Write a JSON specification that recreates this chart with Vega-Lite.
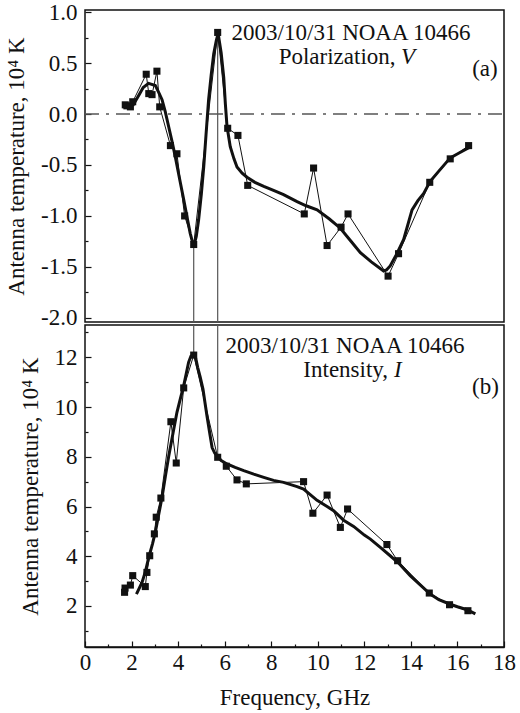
{
  "$schema": "https://vega.github.io/schema/vega-lite/v6.json",
  "background": "white",
  "padding": {"left": 4, "top": 0, "right": 4, "bottom": 4},
  "bounds": "flush",
  "spacing": 3,
  "datasets": {
    "vPts": [
      {"f": 1.73, "t": 0.09}, {"f": 1.80, "t": 0.08}, {"f": 1.95, "t": 0.07}, {"f": 2.05, "t": 0.12},
      {"f": 2.63, "t": 0.39}, {"f": 2.74, "t": 0.20}, {"f": 2.88, "t": 0.19}, {"f": 3.09, "t": 0.42},
      {"f": 3.21, "t": 0.07}, {"f": 3.67, "t": -0.31}, {"f": 3.95, "t": -0.39}, {"f": 4.28, "t": -1.00},
      {"f": 4.67, "t": -1.28}, {"f": 5.70, "t": 0.80}, {"f": 6.13, "t": -0.14}, {"f": 6.57, "t": -0.21},
      {"f": 6.99, "t": -0.70}, {"f": 9.42, "t": -0.98}, {"f": 9.82, "t": -0.53}, {"f": 10.40, "t": -1.29},
      {"f": 11.00, "t": -1.11}, {"f": 11.30, "t": -0.98}, {"f": 13.02, "t": -1.59}, {"f": 13.47, "t": -1.37},
      {"f": 14.81, "t": -0.67}, {"f": 15.69, "t": -0.44}, {"f": 16.48, "t": -0.31}
    ],
    "vFit": [
      {"f": 2.05, "t": 0.08}, {"f": 2.3, "t": 0.18}, {"f": 2.5, "t": 0.26}, {"f": 2.73, "t": 0.30},
      {"f": 3.02, "t": 0.28}, {"f": 3.15, "t": 0.22}, {"f": 3.31, "t": 0.14}, {"f": 3.45, "t": 0.02},
      {"f": 3.59, "t": -0.12}, {"f": 3.75, "t": -0.28}, {"f": 3.88, "t": -0.42}, {"f": 4.05, "t": -0.62},
      {"f": 4.24, "t": -0.84}, {"f": 4.4, "t": -1.03}, {"f": 4.52, "t": -1.17}, {"f": 4.67, "t": -1.30},
      {"f": 4.78, "t": -1.2}, {"f": 4.88, "t": -1.04}, {"f": 5.0, "t": -0.78}, {"f": 5.10, "t": -0.52},
      {"f": 5.2, "t": -0.2}, {"f": 5.31, "t": 0.14}, {"f": 5.42, "t": 0.38}, {"f": 5.53, "t": 0.59},
      {"f": 5.64, "t": 0.72}, {"f": 5.72, "t": 0.79}, {"f": 5.85, "t": 0.6}, {"f": 5.96, "t": 0.36},
      {"f": 6.03, "t": 0.1}, {"f": 6.10, "t": -0.12}, {"f": 6.24, "t": -0.32}, {"f": 6.4, "t": -0.44},
      {"f": 6.53, "t": -0.52}, {"f": 6.75, "t": -0.58}, {"f": 6.96, "t": -0.62}, {"f": 7.3, "t": -0.67},
      {"f": 7.68, "t": -0.71}, {"f": 8.1, "t": -0.75}, {"f": 8.53, "t": -0.79}, {"f": 9.11, "t": -0.86},
      {"f": 9.5, "t": -0.90}, {"f": 9.97, "t": -0.94}, {"f": 10.5, "t": -1.03}, {"f": 10.97, "t": -1.12},
      {"f": 11.4, "t": -1.24}, {"f": 11.83, "t": -1.36}, {"f": 12.3, "t": -1.45}, {"f": 12.83, "t": -1.54},
      {"f": 12.95, "t": -1.53}, {"f": 13.11, "t": -1.49}, {"f": 13.4, "t": -1.37}, {"f": 13.69, "t": -1.23},
      {"f": 14.05, "t": -0.94}, {"f": 14.3, "t": -0.85}, {"f": 14.55, "t": -0.78}, {"f": 14.83, "t": -0.66},
      {"f": 15.2, "t": -0.56}, {"f": 15.69, "t": -0.43}, {"f": 16.05, "t": -0.385}, {"f": 16.41, "t": -0.34},
      {"f": 16.5, "t": -0.33}
    ],
    "iPts": [
      {"f": 1.70, "t": 2.55}, {"f": 1.72, "t": 2.72}, {"f": 1.95, "t": 2.84}, {"f": 2.05, "t": 3.22},
      {"f": 2.59, "t": 2.78}, {"f": 2.66, "t": 3.35}, {"f": 2.78, "t": 4.02}, {"f": 2.98, "t": 4.90},
      {"f": 3.06, "t": 5.57}, {"f": 3.26, "t": 6.34}, {"f": 3.69, "t": 9.41}, {"f": 3.92, "t": 7.75},
      {"f": 4.24, "t": 10.77}, {"f": 4.67, "t": 12.09}, {"f": 5.70, "t": 7.98}, {"f": 6.07, "t": 7.62},
      {"f": 6.53, "t": 7.07}, {"f": 6.93, "t": 6.91}, {"f": 9.39, "t": 7.00}, {"f": 9.79, "t": 5.73},
      {"f": 10.40, "t": 6.46}, {"f": 10.97, "t": 5.16}, {"f": 11.28, "t": 5.90}, {"f": 12.97, "t": 4.47},
      {"f": 13.43, "t": 3.82}, {"f": 14.79, "t": 2.52}, {"f": 15.66, "t": 2.05}, {"f": 16.45, "t": 1.81}
    ],
    "iFit": [
      {"f": 2.21, "t": 2.48}, {"f": 2.45, "t": 2.95}, {"f": 2.6, "t": 3.4}, {"f": 2.74, "t": 3.96},
      {"f": 2.9, "t": 4.5}, {"f": 3.02, "t": 4.96}, {"f": 3.15, "t": 5.6}, {"f": 3.31, "t": 6.37},
      {"f": 3.45, "t": 7.2}, {"f": 3.60, "t": 8.04}, {"f": 3.78, "t": 8.95}, {"f": 3.95, "t": 9.79},
      {"f": 4.1, "t": 10.35}, {"f": 4.24, "t": 10.86}, {"f": 4.35, "t": 11.35}, {"f": 4.45, "t": 11.80},
      {"f": 4.55, "t": 12.05}, {"f": 4.67, "t": 12.13}, {"f": 4.76, "t": 11.95}, {"f": 4.84, "t": 11.60},
      {"f": 4.95, "t": 11.2}, {"f": 5.07, "t": 10.71}, {"f": 5.15, "t": 10.2}, {"f": 5.24, "t": 9.64},
      {"f": 5.35, "t": 9.0}, {"f": 5.46, "t": 8.37}, {"f": 5.57, "t": 8.15}, {"f": 5.67, "t": 8.04},
      {"f": 5.85, "t": 7.85}, {"f": 6.10, "t": 7.71}, {"f": 6.45, "t": 7.57}, {"f": 6.82, "t": 7.44},
      {"f": 7.25, "t": 7.30}, {"f": 7.68, "t": 7.17}, {"f": 8.1, "t": 7.05}, {"f": 8.53, "t": 6.97},
      {"f": 9.11, "t": 6.80}, {"f": 9.39, "t": 6.70}, {"f": 9.97, "t": 6.25}, {"f": 10.4, "t": 6.0},
      {"f": 10.68, "t": 5.83}, {"f": 11.11, "t": 5.45}, {"f": 11.54, "t": 5.20}, {"f": 12.0, "t": 4.85},
      {"f": 12.26, "t": 4.69}, {"f": 12.7, "t": 4.35}, {"f": 13.11, "t": 4.02}, {"f": 13.5, "t": 3.70},
      {"f": 13.97, "t": 3.22}, {"f": 14.4, "t": 2.85}, {"f": 14.83, "t": 2.48}, {"f": 15.2, "t": 2.25},
      {"f": 15.69, "t": 2.07}, {"f": 16.0, "t": 1.97}, {"f": 16.41, "t": 1.85}, {"f": 16.77, "t": 1.68}
    ]
  },
  "vconcat": [
    {
      "width": 419,
      "height": 312,
      "encoding": {
        "x": {"field": "f", "type": "quantitative", "scale": {"domain": [0, 18], "nice": false, "zero": false}, "axis": null},
        "y": {
          "field": "t", "type": "quantitative",
          "scale": {"domain": [-2.04, 1.02], "nice": false, "zero": false},
          "axis": {
            "title": "Antenna temperature, 10⁴ K",
            "values": [-2, -1.75, -1.5, -1.25, -1, -0.75, -0.5, -0.25, 0, 0.25, 0.5, 0.75, 1],
            "labelExpr": "abs(datum.value * 2 - round(datum.value * 2)) > 0.001 ? '' : replace(format(datum.value, '.1f'), '−', '-')",
            "tickSize": {"condition": {"test": "abs(datum.value * 2 - round(datum.value * 2)) > 0.001", "value": -3}, "value": -6},
            "labelPadding": 14,
            "titlePadding": 12,
            "domain": false
          }
        }
      },
      "layer": [
        {
          "data": {"values": [{"f": 0, "t": 0}, {"f": 18, "t": 0}]},
          "mark": {"type": "line", "color": "#555", "strokeWidth": 1.3, "strokeDash": [14, 7, 3, 7]}
        },
        {
          "data": {"values": [{"f": 4.67, "t": -1.28, "t2": -2.04}, {"f": 5.70, "t": 0.80, "t2": -2.04}]},
          "mark": {"type": "rule", "color": "#555", "strokeWidth": 1.2},
          "encoding": {"y2": {"field": "t2"}}
        },
        {
          "data": {"name": "vFit"},
          "mark": {"type": "line", "color": "#111", "strokeWidth": 3}
        },
        {
          "data": {"name": "vPts"},
          "mark": {"type": "line", "color": "#111", "strokeWidth": 1}
        },
        {
          "data": {"name": "vPts"},
          "mark": {"type": "point", "shape": "square", "filled": true, "color": "#111", "size": 50, "opacity": 1}
        },
        {
          "data": {"values": [{"f": 11.43, "t": 0.724, "txt": "2003/10/31 NOAA 10466"}, {"f": 17.18, "t": 0.372, "txt": "(a)"}]},
          "mark": {"type": "text", "align": "center", "baseline": "alphabetic"},
          "encoding": {"text": {"field": "txt"}}
        },
        {
          "data": {"values": [{"f": 13.34, "t": 0.489, "txt": "Polarization,"}]},
          "mark": {"type": "text", "align": "right", "baseline": "alphabetic"},
          "encoding": {"text": {"field": "txt"}}
        },
        {
          "data": {"values": [{"f": 13.57, "t": 0.489, "txt": "V"}]},
          "mark": {"type": "text", "align": "left", "baseline": "alphabetic", "fontStyle": "italic"},
          "encoding": {"text": {"field": "txt"}}
        }
      ]
    },
    {
      "width": 419,
      "height": 322,
      "encoding": {
        "x": {
          "field": "f", "type": "quantitative",
          "scale": {"domain": [0, 18], "nice": false, "zero": false},
          "axis": {
            "title": "Frequency, GHz",
            "values": [0, 1, 2, 3, 4, 5, 6, 7, 8, 9, 10, 11, 12, 13, 14, 15, 16, 17, 18],
            "labelExpr": "datum.value % 2 == 1 ? '' : datum.value",
            "tickSize": {"condition": {"test": "datum.value % 2 == 1", "value": -3}, "value": -6},
            "labelPadding": 10,
            "titlePadding": 12,
            "labelFlush": false,
            "domainWidth": 1.5
          }
        },
        "y": {
          "field": "t", "type": "quantitative",
          "scale": {"domain": [0.35, 13.3], "nice": false, "zero": false},
          "axis": {
            "title": "Antenna temperature, 10⁴ K",
            "values": [1, 2, 3, 4, 5, 6, 7, 8, 9, 10, 11, 12, 13],
            "labelExpr": "datum.value % 2 == 1 ? '' : datum.value",
            "tickSize": {"condition": {"test": "datum.value % 2 == 1", "value": -3}, "value": -6},
            "labelPadding": 14,
            "titlePadding": 12,
            "domain": false
          }
        }
      },
      "layer": [
        {
          "data": {"values": [{"f": 4.67, "t": 12.09, "t2": 13.3}, {"f": 5.70, "t": 7.98, "t2": 13.3}]},
          "mark": {"type": "rule", "color": "#555", "strokeWidth": 1.2},
          "encoding": {"y2": {"field": "t2"}}
        },
        {
          "data": {"name": "iFit"},
          "mark": {"type": "line", "color": "#111", "strokeWidth": 3}
        },
        {
          "data": {"name": "iPts"},
          "mark": {"type": "line", "color": "#111", "strokeWidth": 1}
        },
        {
          "data": {"name": "iPts"},
          "mark": {"type": "point", "shape": "square", "filled": true, "color": "#111", "size": 50, "opacity": 1}
        },
        {
          "data": {"values": [{"f": 11.17, "t": 12.17, "txt": "2003/10/31 NOAA 10466"}, {"f": 17.2, "t": 10.53, "txt": "(b)"}]},
          "mark": {"type": "text", "align": "center", "baseline": "alphabetic"},
          "encoding": {"text": {"field": "txt"}}
        },
        {
          "data": {"values": [{"f": 13.02, "t": 11.21, "txt": "Intensity,"}]},
          "mark": {"type": "text", "align": "right", "baseline": "alphabetic"},
          "encoding": {"text": {"field": "txt"}}
        },
        {
          "data": {"values": [{"f": 13.27, "t": 11.21, "txt": "I"}]},
          "mark": {"type": "text", "align": "left", "baseline": "alphabetic", "fontStyle": "italic"},
          "encoding": {"text": {"field": "txt"}}
        }
      ]
    }
  ],
  "config": {
    "font": "Liberation Serif, DejaVu Serif, serif",
    "view": {"stroke": "#111", "strokeWidth": 1.5},
    "axis": {
      "grid": false,
      "domainColor": "#111",
      "tickColor": "#111",
      "tickWidth": 1.2,
      "labelColor": "#111",
      "titleColor": "#111",
      "labelFont": "Liberation Serif, DejaVu Serif, serif",
      "titleFont": "Liberation Serif, DejaVu Serif, serif",
      "labelFontSize": 23,
      "titleFontSize": 23,
      "titleFontWeight": "normal"
    },
    "text": {"font": "Liberation Serif, DejaVu Serif, serif", "fontSize": 23, "color": "#111"}
  }
}
